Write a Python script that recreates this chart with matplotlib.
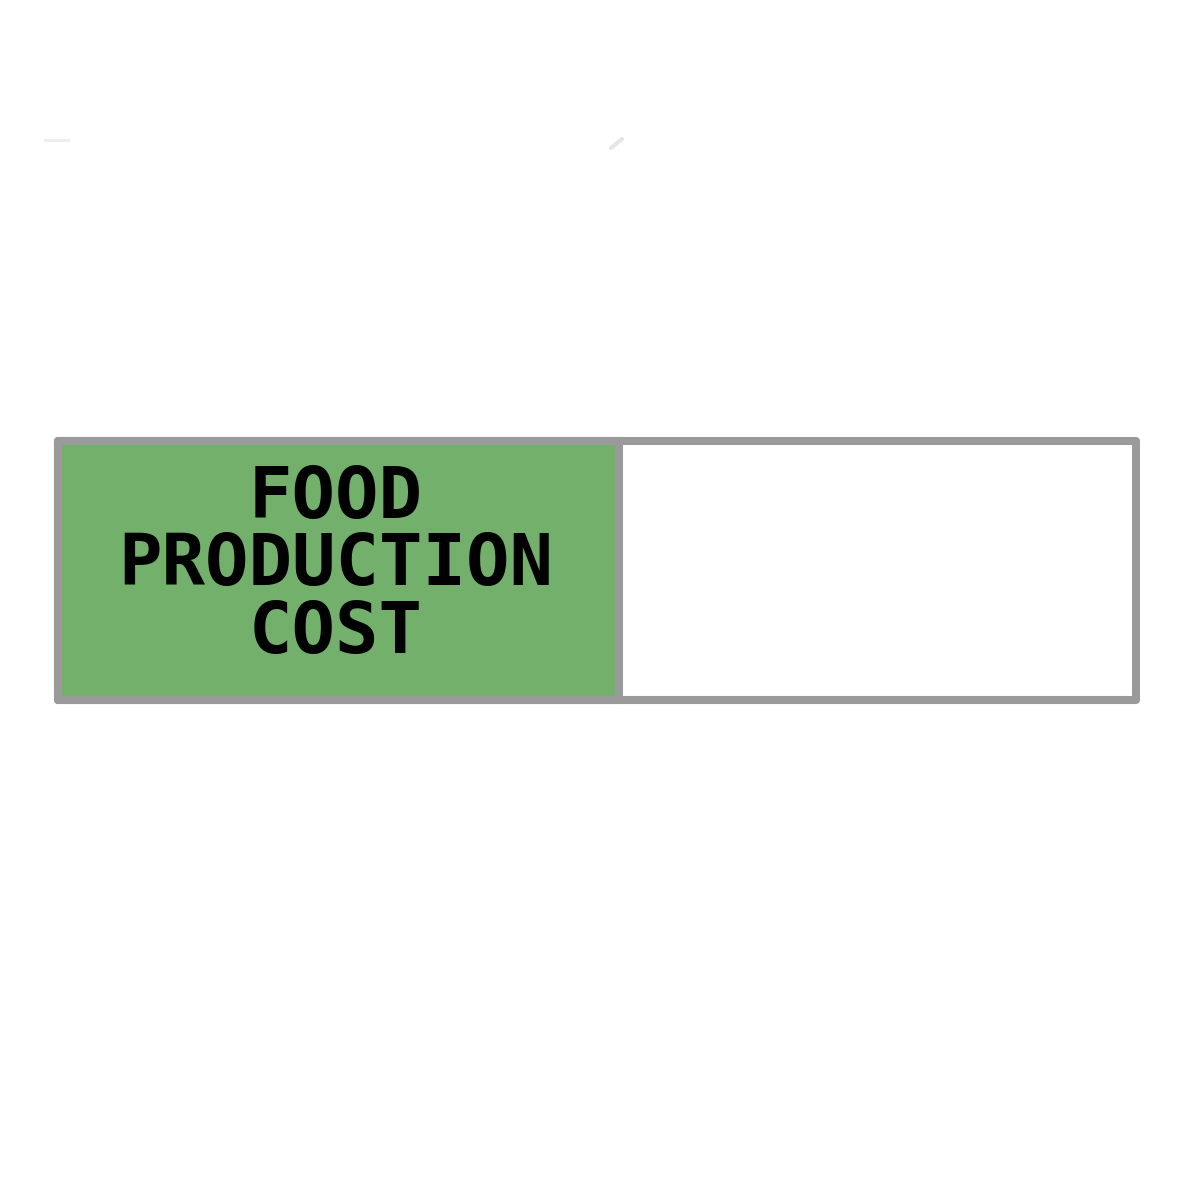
# %% Progress bar: food production cost
import matplotlib.pyplot as plt

label = "FOOD\nPRODUCTION\nCOST"
progress = [0.52]
max_value = [1.0]

green = "#72b06c"
grey = "#9a9a9a"

# %% Plot
plt.close("all")
fig = plt.figure(figsize=(11.81, 11.81), dpi=100)
ax = fig.add_axes([58 / 1181, 1 - 700 / 1181, 1078 / 1181, 259 / 1181])

ax.barh(0, max_value, height=1, color="white", edgecolor=grey,
        linewidth=5.8, joinstyle="round", clip_on=False)
ax.barh(0, progress, height=1, color=green, edgecolor=grey,
        linewidth=5.8, joinstyle="round", clip_on=False)
ax.text(progress[0] / 2 - 0.002, 0.018, label, ha="center", va="center",
        fontsize=52, fontweight="bold", family="DejaVu Sans Mono",
        linespacing=0.97, color="black")

ax.set_xlim(0, max_value[0])
ax.set_ylim(-0.5, 0.5)
ax.axis("off")

# faint smudges near the top
fig.add_artist(plt.Line2D([45 / 1181, 68 / 1181], [1 - 140 / 1181] * 2,
                          color="#eeeeee", lw=2))
fig.add_artist(plt.Line2D([611 / 1181, 622 / 1181],
                          [1 - 148 / 1181, 1 - 139 / 1181],
                          color="#e6e6e6", lw=3, solid_capstyle="round"))

fig.savefig("out.png", dpi=100)
